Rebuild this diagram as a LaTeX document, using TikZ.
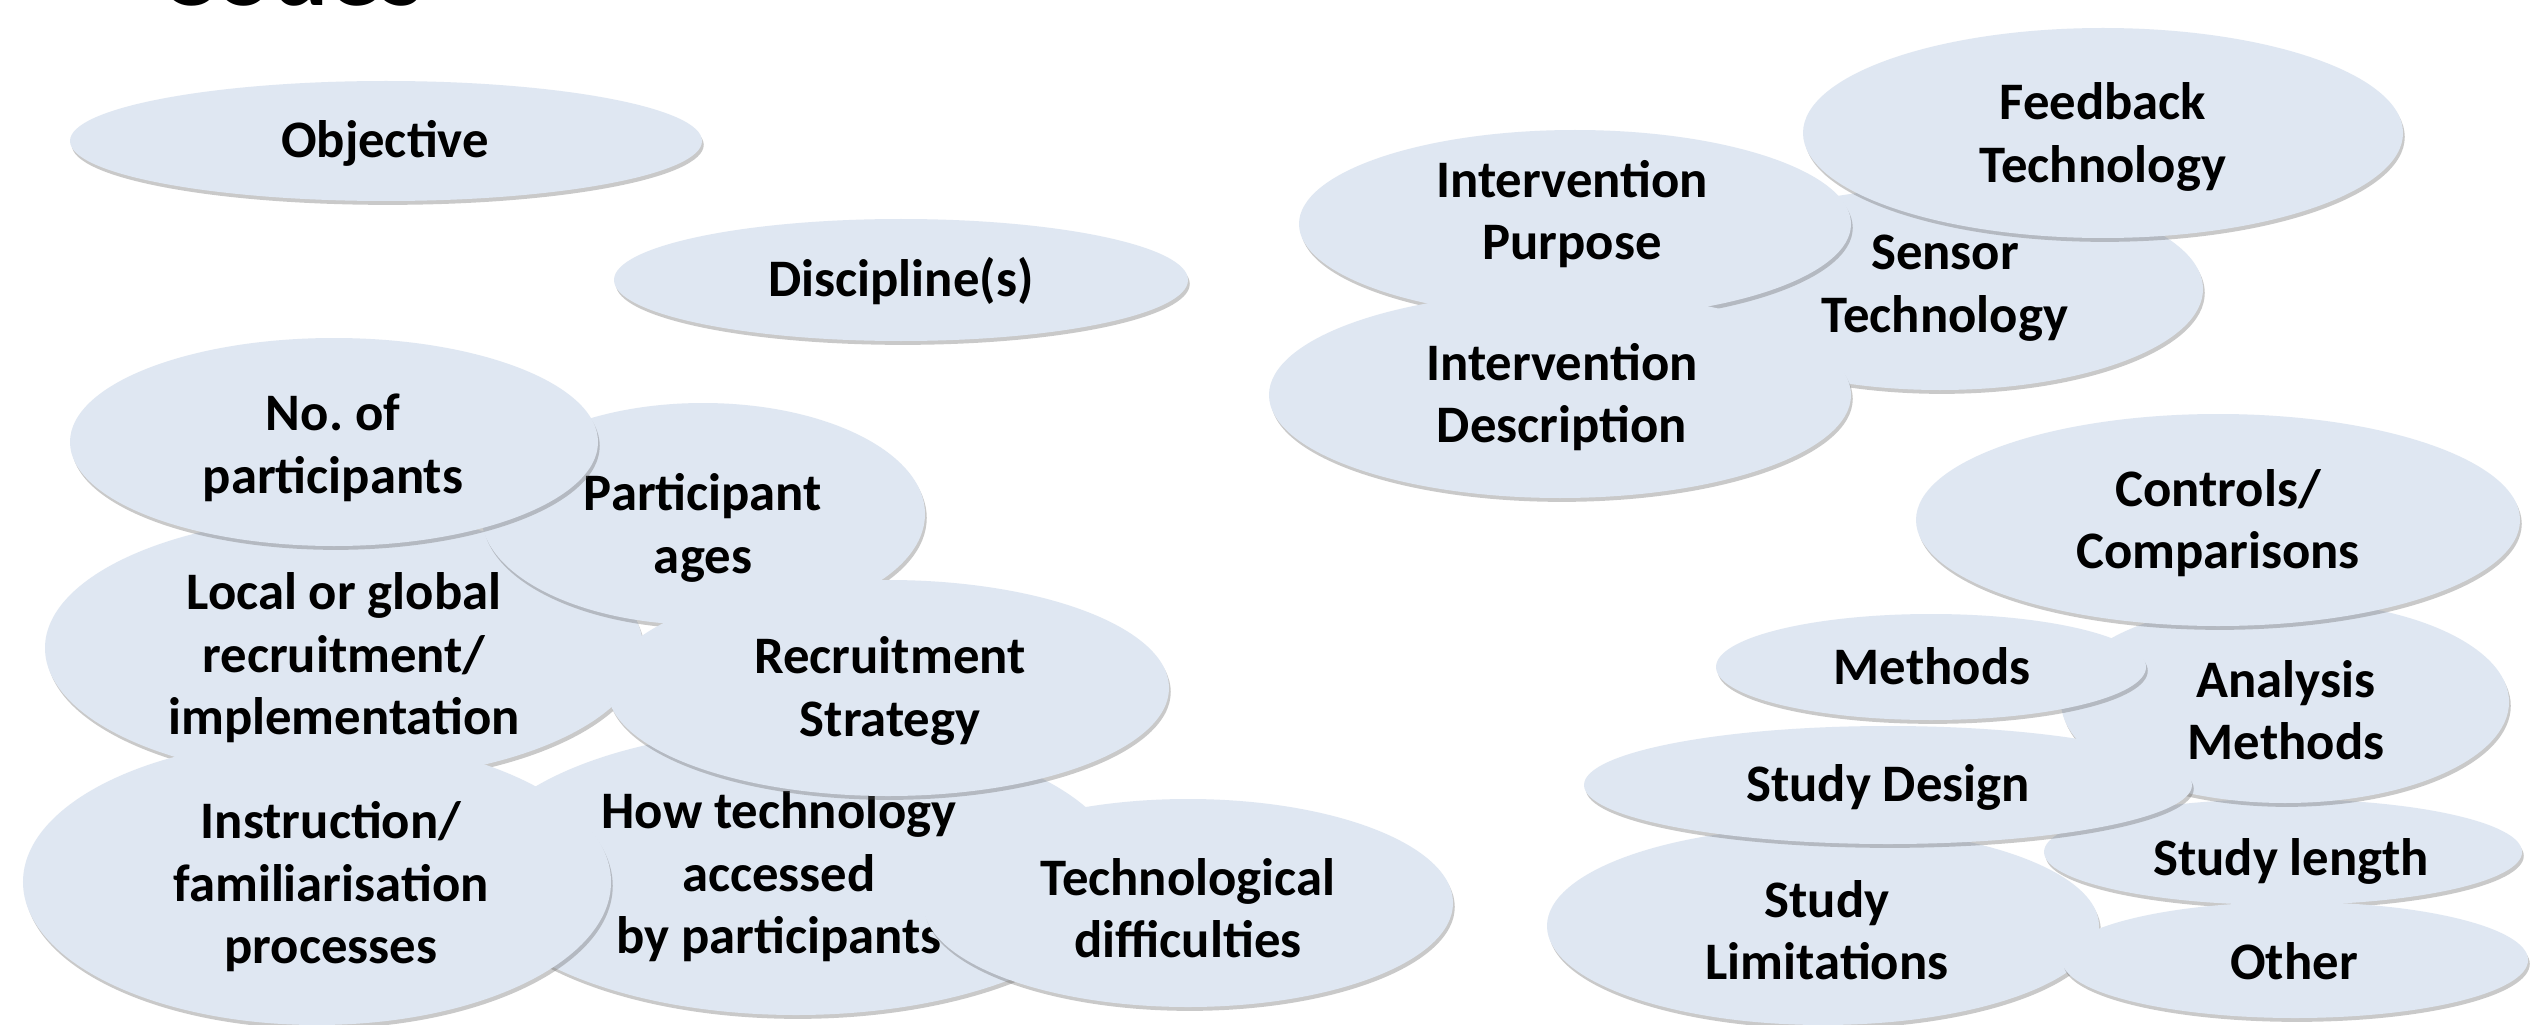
\documentclass[tikz,border=0pt]{standalone}
\usepackage{fontspec}
\setmainfont{Carlito}
\usetikzlibrary{shapes.geometric,shadows}
\definecolor{blobfill}{HTML}{DFE7F2}
\begin{document}
\begin{tikzpicture}[
  blob/.style={ellipse, fill=blobfill, draw=none, inner sep=0pt,
    drop shadow={shadow xshift=0.5pt, shadow yshift=-1.1pt, opacity=0.35, fill=black!60}},
  lab/.style={align=center, font=\bfseries\fontsize{15}{17.8}\selectfont, text=black, inner sep=0pt}
]
\useasboundingbox (0,0) rectangle (25.46,-10.25);
\clip (0,0) rectangle (25.46,-10.25);
\fill[white] (0,0) rectangle (25.46,-10.25);

% title (cut off at the top)
\node[anchor=base west, inner sep=0pt, font=\bfseries\fontsize{30}{36}\selectfont] (title) at (1.59,-0.055) {Codes};

% left cluster
\node[blob, minimum width=6.32cm, minimum height=1.20cm] (e1) at (3.86,-1.41) {};
\node[lab] (t1) at (3.85,-1.43) {Objective};

\node[blob, minimum width=5.74cm, minimum height=1.22cm] (e2) at (9.01,-2.80) {};
\node[lab] (t2) at (9.01,-2.81) {Discipline(s)};

\node[blob, minimum width=5.98cm, minimum height=2.64cm] (e5) at (3.44,-6.48) {};
\node[lab] (t5) at (3.44,-6.58) {Local or global\\recruitment/\\implementation};

\node[blob, minimum width=4.44cm, minimum height=2.22cm] (e4) at (7.03,-5.14) {};
\node[lab] (t4) at (7.03,-5.28) {Participant\\ages};

\node[blob, minimum width=5.28cm, minimum height=2.08cm] (e3) at (3.34,-4.42) {};
\node[lab] (t3) at (3.33,-4.48) {No.\ of\\participants};

\node[blob, minimum width=6.50cm, minimum height=2.86cm] (e8) at (7.96,-8.72) {};
\node[lab] (t8) at (7.79,-8.77) {How technology\\accessed\\by participants};

\node[blob, minimum width=5.88cm, minimum height=2.86cm] (e7) at (3.17,-8.82) {};
\node[lab] (t7) at (3.31,-8.87) {Instruction/\\familiarisation\\processes};

\node[blob, minimum width=5.62cm, minimum height=2.16cm] (e6) at (8.88,-6.88) {};
\node[lab] (t6) at (8.90,-6.91) {Recruitment\\Strategy};

\node[blob, minimum width=5.30cm, minimum height=2.08cm] (e9) at (11.88,-9.03) {};
\node[lab] (t9) at (11.88,-9.08) {Technological\\difficulties};

% top right cluster
\node[blob, minimum width=5.26cm, minimum height=2.02cm] (e12) at (19.40,-2.89) {};
\node[lab] (t12) at (19.45,-2.88) {Sensor\\Technology};

\node[blob, minimum width=5.52cm, minimum height=1.88cm] (e10) at (15.75,-2.24) {};
\node[lab] (t10) at (15.72,-2.14) {Intervention\\Purpose};

\node[blob, minimum width=6.00cm, minimum height=2.10cm] (e13) at (21.03,-1.33) {};
\node[lab] (t13) at (21.03,-1.37) {Feedback\\Technology};

\node[blob, minimum width=5.82cm, minimum height=2.06cm] (e11) at (15.60,-3.95) {};
\node[lab] (t11) at (15.62,-3.97) {Intervention\\Description};

% bottom right cluster
\node[blob, minimum width=4.78cm, minimum height=1.06cm] (e18) at (22.83,-8.52) {};
\node[lab] (t18) at (22.91,-8.61) {Study length};

\node[blob, minimum width=4.48cm, minimum height=2.02cm] (e15) at (22.85,-7.02) {};
\node[lab] (t15) at (22.86,-7.10) {Analysis\\Methods};

\node[blob, minimum width=6.04cm, minimum height=2.12cm] (e14) at (22.18,-5.20) {};
\node[lab] (t14) at (22.18,-5.23) {Controls/\\Comparisons};

\node[blob, minimum width=4.30cm, minimum height=1.06cm] (e16) at (19.31,-6.67) {};
\node[lab] (t16) at (19.32,-6.66) {Methods};

\node[blob, minimum width=5.52cm, minimum height=1.98cm] (e19) at (18.23,-9.26) {};
\node[lab] (t19) at (18.27,-9.30) {Study\\Limitations};

\node[blob, minimum width=6.08cm, minimum height=1.18cm] (e17) at (18.88,-7.85) {};
\node[lab] (t17) at (18.88,-7.87) {Study Design};

\node[blob, minimum width=4.66cm, minimum height=1.16cm] (e20) at (22.95,-9.60) {};
\node[lab] (t20) at (22.94,-9.61) {Other};
\end{tikzpicture}
\end{document}
